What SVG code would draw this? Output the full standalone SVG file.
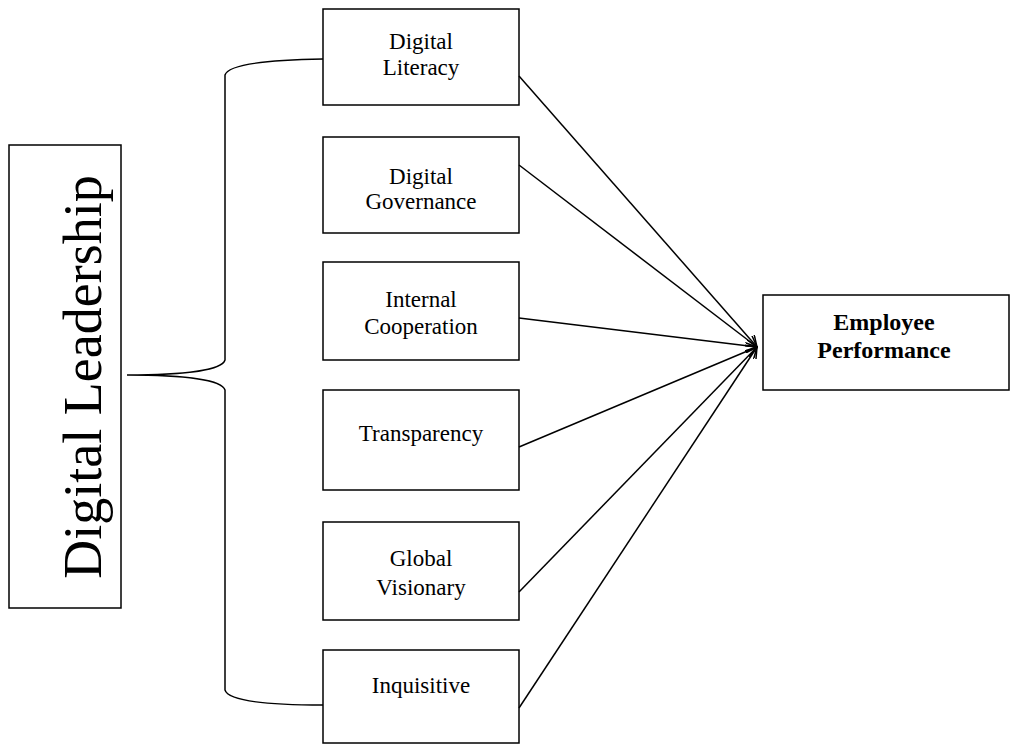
<svg xmlns="http://www.w3.org/2000/svg" width="1011" height="744" viewBox="0 0 1011 744">
<defs>
<style>
.box{fill:#fff;stroke:#000;stroke-width:1.5}
.t{font-family:"Liberation Serif","Times New Roman",serif;font-size:23px;text-anchor:middle;fill:#000}
.b{font-weight:bold;font-size:24px}
.c{fill:none;stroke:#000;stroke-width:1.5}
</style>
<marker id="ah" viewBox="0 0 12 12" refX="11" refY="6" markerWidth="12" markerHeight="12" markerUnits="userSpaceOnUse" orient="auto">
<path d="M0,0 L11,6 L0,12" fill="none" stroke="#000" stroke-width="1.5"/>
</marker>
</defs>
<rect width="1011" height="744" fill="#fff"/>
<g id="digital-leadership">
<rect class="box" x="9" y="145" width="112" height="463"/>
<text class="t" transform="translate(101,377) rotate(-90)" style="font-size:54px">Digital Leadership</text>
</g>
<g id="brace">
<path class="c" stroke-width="2" d="M323,59 C262,60 228,65 225,75 L225,360 C222,370 185,375 127,375 C185,375 222,380 225,390 L225,690 C228,700 262,705 323,705"/>
</g>
<g id="digital-literacy">
<rect class="box" x="323" y="9" width="196" height="96"/>
<text class="t" x="421" y="49">Digital</text>
<text class="t" x="421" y="75">Literacy</text>
</g>
<g id="digital-governance">
<rect class="box" x="323" y="137" width="196" height="96"/>
<text class="t" x="421" y="184">Digital</text>
<text class="t" x="421" y="209">Governance</text>
</g>
<g id="internal-cooperation">
<rect class="box" x="323" y="262" width="196" height="98"/>
<text class="t" x="421" y="307">Internal</text>
<text class="t" x="421" y="334">Cooperation</text>
</g>
<g id="transparency">
<rect class="box" x="323" y="390" width="196" height="100"/>
<text class="t" x="421" y="441">Transparency</text>
</g>
<g id="global-visionary">
<rect class="box" x="323" y="522" width="196" height="98"/>
<text class="t" x="421" y="566">Global</text>
<text class="t" x="421" y="595">Visionary</text>
</g>
<g id="inquisitive">
<rect class="box" x="323" y="650" width="196" height="93"/>
<text class="t" x="421" y="693">Inquisitive</text>
</g>
<g id="employee-performance">
<rect class="box" x="763" y="295" width="246" height="95"/>
<text class="t b" x="884" y="330">Employee</text>
<text class="t b" x="884" y="358">Performance</text>
</g>
<g id="connectors">
<line class="c" x1="519" y1="76" x2="757" y2="347" marker-end="url(#ah)"/>
<line class="c" x1="519" y1="165" x2="757" y2="347" marker-end="url(#ah)"/>
<line class="c" x1="519" y1="318" x2="757" y2="347" marker-end="url(#ah)"/>
<line class="c" x1="519" y1="447" x2="757" y2="347" marker-end="url(#ah)"/>
<line class="c" x1="519" y1="592" x2="757" y2="347" marker-end="url(#ah)"/>
<line class="c" x1="519" y1="708" x2="757" y2="347" marker-end="url(#ah)"/>
</g>
</svg>
